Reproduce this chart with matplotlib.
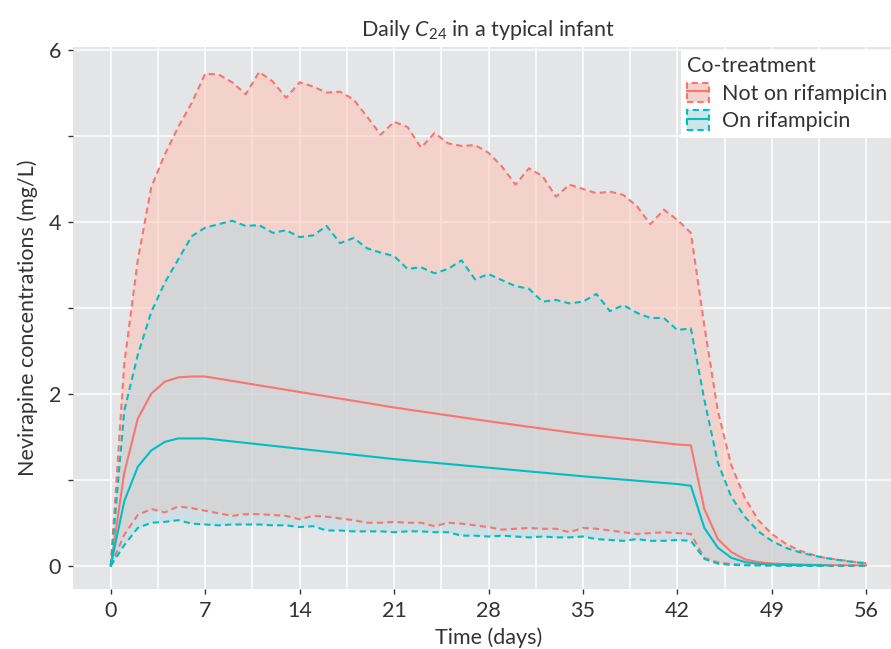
import matplotlib
matplotlib.use('Agg')
import matplotlib.pyplot as plt
from matplotlib.lines import Line2D
from matplotlib.patches import Patch
from matplotlib.ticker import MultipleLocator, FuncFormatter

# daily C24 percentiles (days 0..56)
days = list(range(57))

not_rif_hi = [0, 2.35, 3.55, 4.4, 4.78, 5.1, 5.38, 5.72, 5.71, 5.62,
              5.48, 5.74, 5.63, 5.44, 5.62, 5.57, 5.50, 5.51, 5.42, 5.22,
              5.01, 5.16, 5.10, 4.86, 5.03, 4.91, 4.88, 4.89, 4.80, 4.64,
              4.43, 4.62, 4.53, 4.29, 4.43, 4.38, 4.33, 4.35, 4.31, 4.18,
              3.97, 4.14, 4.02, 3.87, 2.79, 1.80, 1.17, 0.79, 0.53, 0.37,
              0.26, 0.18, 0.13, 0.09, 0.07, 0.047, 0.03]
not_rif_lo = [0, 0.36, 0.59, 0.66, 0.62, 0.69, 0.67, 0.64, 0.61, 0.58,
              0.60, 0.60, 0.59, 0.58, 0.54, 0.58, 0.57, 0.55, 0.53, 0.50,
              0.50, 0.51, 0.50, 0.50, 0.46, 0.50, 0.49, 0.47, 0.45, 0.42,
              0.43, 0.44, 0.43, 0.43, 0.39, 0.44, 0.43, 0.41, 0.39, 0.37,
              0.38, 0.39, 0.38, 0.37, 0.09, 0.04, 0.02, 0.012, 0.008, 0.005,
              0.003, 0.002, 0.001, 0.001, 0.0005, 0, 0]

rif_hi = [0, 1.8, 2.45, 2.95, 3.29, 3.56, 3.83, 3.93, 3.97, 4.01,
          3.95, 3.96, 3.87, 3.90, 3.82, 3.84, 3.95, 3.75, 3.81, 3.69,
          3.64, 3.60, 3.45, 3.47, 3.40, 3.45, 3.55, 3.33, 3.39, 3.32,
          3.25, 3.22, 3.07, 3.09, 3.05, 3.07, 3.16, 2.96, 3.03, 2.94,
          2.88, 2.88, 2.74, 2.76, 1.93, 1.20, 0.80, 0.57, 0.40, 0.29,
          0.21, 0.16, 0.12, 0.09, 0.066, 0.045, 0.028]
rif_lo = [0, 0.24, 0.44, 0.50, 0.51, 0.53, 0.49, 0.48, 0.47, 0.48,
          0.48, 0.48, 0.47, 0.47, 0.45, 0.46, 0.41, 0.41, 0.40, 0.40,
          0.40, 0.39, 0.40, 0.40, 0.39, 0.39, 0.35, 0.35, 0.34, 0.35,
          0.34, 0.33, 0.34, 0.33, 0.33, 0.34, 0.31, 0.30, 0.29, 0.31,
          0.29, 0.29, 0.30, 0.29, 0.08, 0.025, 0.01, 0.005, 0.003, 0.002,
          0.001, 0, 0, 0, 0, 0, 0]

# medians
med_days = [0, 1, 2, 3, 4, 5, 6, 7, 14, 21, 28, 35, 42, 43, 44, 45, 46,
            47, 48, 49, 50, 51, 52, 53, 54, 55, 56]
not_rif_med = [0, 1.08, 1.71, 2.0, 2.14, 2.19, 2.2, 2.2, 2.02, 1.84, 1.68,
               1.53, 1.41, 1.40, 0.66, 0.31, 0.16, 0.074, 0.043, 0.027,
               0.02, 0.015, 0.011, 0.008, 0.006, 0.005, 0.004]
rif_med_days = med_days[:24]
rif_med = [0, 0.75, 1.15, 1.34, 1.44, 1.48, 1.48, 1.48, 1.36, 1.24, 1.14,
           1.04, 0.95, 0.93, 0.44, 0.21, 0.093, 0.043, 0.023, 0.015,
           0.011, 0.008, 0.006, 0.005]

labels = ['Not on rifampicin', 'On rifampicin']

RED = '#F8766D'
TEAL = '#00BFC4'
TXT = '#333333'
dash = (0, (3, 2))
lw = 1.5

plt.rcParams['font.family'] = ['Lato', 'DejaVu Sans']
plt.rcParams['mathtext.fontset'] = 'custom'
plt.rcParams['mathtext.rm'] = 'Lato'
plt.rcParams['mathtext.it'] = 'Lato:italic'
fs = 15.5

fig = plt.figure(figsize=(8.91, 6.49), dpi=100)
ax = fig.add_axes([73 / 891, 60 / 649, (904 - 73) / 891, 542 / 649])
ax.set_facecolor('#E4E5E7')

ax.fill_between(days, not_rif_lo, not_rif_hi, facecolor='#FFC4B5', alpha=0.55, lw=0)
ax.fill_between(days, rif_lo, rif_hi, facecolor='#B7D9E4', alpha=0.5, lw=0)

ax.plot(days, not_rif_hi, color=RED, lw=lw, ls=dash)
ax.plot(days, not_rif_lo, color=RED, lw=lw, ls=dash)
ax.plot(med_days, not_rif_med, color=RED, lw=lw)
ax.plot(days, rif_hi, color=TEAL, lw=lw, ls=dash)
ax.plot(days, rif_lo, color=TEAL, lw=lw, ls=dash)
ax.plot(rif_med_days, rif_med, color=TEAL, lw=lw)

ax.set_xlim(-2.8, 58.8)
ax.set_ylim(-0.27, 6.03)
ax.xaxis.set_major_locator(MultipleLocator(7))
ax.xaxis.set_minor_locator(MultipleLocator(3.5))
ax.yaxis.set_major_locator(MultipleLocator(1))
ax.yaxis.set_major_formatter(FuncFormatter(lambda v, p: '%d' % v if int(round(v)) % 2 == 0 else ''))
ax.grid(True, which='major', color='white', lw=1.1)
ax.grid(True, which='minor', axis='x', color='white', lw=1.1)
ax.set_axisbelow(True)
for s in ax.spines.values():
    s.set_visible(False)
ax.tick_params(which='major', length=3.5, width=1, color=TXT, labelsize=fs,
               labelcolor=TXT, pad=5)
ax.tick_params(which='minor', length=0)

ax.set_title(r'Daily $\mathit{C}_{\mathrm{24}}$ in a typical infant', fontsize=fs,
             color=TXT, pad=8)
ax.set_xlabel('Time (days)', fontsize=fs, color=TXT, labelpad=5)
ax.set_ylabel('Nevirapine concentrations (mg/L)', fontsize=fs, color=TXT, labelpad=8)

handles = [
    (Patch(facecolor='#F3D3CB', edgecolor=RED, linestyle=dash, lw=lw),
     Line2D([], [], color=RED, lw=lw)),
    (Patch(facecolor='#CCE5E8', edgecolor=TEAL, linestyle=dash, lw=lw),
     Line2D([], [], color=TEAL, lw=lw)),
]
leg = ax.legend(handles, labels, title='Co-treatment', loc='upper left',
                bbox_to_anchor=(681 / 891, 1 - 50 / 649), bbox_transform=fig.transFigure,
                frameon=True, fancybox=False, edgecolor='none', facecolor='white',
                framealpha=1, alignment='left', fontsize=fs, title_fontsize=fs,
                handlelength=1.0, handleheight=1.0, handletextpad=0.6,
                borderpad=0.3, labelspacing=0.3, borderaxespad=0)
for t in leg.get_texts():
    t.set_color(TXT)
leg.get_title().set_color(TXT)

fig.savefig('out.png', dpi=100)
